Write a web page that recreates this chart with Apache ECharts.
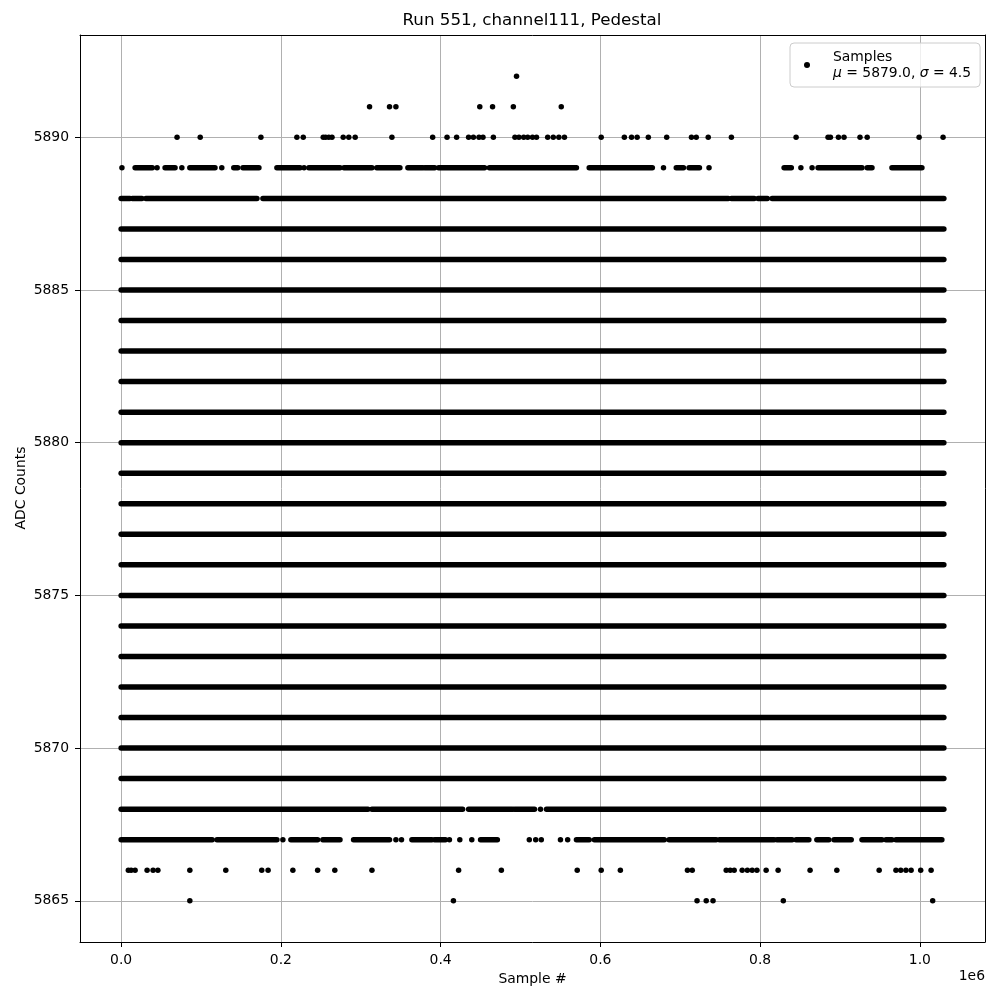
<!DOCTYPE html>
<html>
<head>
<meta charset="utf-8">
<script src="https://cdn.jsdelivr.net/npm/echarts@6/dist/echarts.min.js"></script>
<style>html,body{margin:0;padding:0;background:#fff}#c{width:1000px;height:1000px}</style>
</head>
<body>
<div id="c"></div>
<script>
// x values are in thousands of samples, y values are ADC counts
const titleText = 'Run 551, channel111, Pedestal';
const xAxisTitle = 'Sample #';
const yAxisTitle = 'ADC Counts';
const legendLine1 = 'Samples';
const muValue = '5879.0';
const sigmaValue = '4.5';

// isolated points per ADC level (x in thousands of samples)
const pts5892 = [495];
const pts5891 = [311, 336, 344, 449, 465, 491, 551];
const pts5890 = [70, 99, 175, 220, 228, 253, 256, 260, 264, 278, 285, 293, 339, 390, 408, 420, 435, 441, 448, 453, 466,
  493, 498, 504, 509, 515, 520, 534, 541, 548, 555, 601, 630, 639, 646, 660, 683, 714, 720, 735, 764, 845, 885, 888,
  898, 905, 925, 934, 999, 1029];
const pts5889 = [1, 45, 76, 126, 229, 679, 736, 851, 865];
const pts5868 = [525];
const pts5867 = [202.5, 344, 351, 411, 424, 439, 511, 519, 526, 550, 559];
const pts5866 = [9, 12.5, 17.5, 32.5, 40, 46, 86, 131, 176, 184, 215, 246, 267.5, 314, 422.5, 476, 571, 601, 625, 709,
  715, 757.5, 762.5, 767.5, 777.5, 784, 790, 796, 807.5, 822.5, 862.5, 896, 949, 970, 976, 982.5, 989, 1001, 1014];
const pts5865 = [86, 416, 721, 732.5, 741, 829, 1016];

// densely filled stretches [from, to] per ADC level (x in thousands of samples)
const runs5889 = [[17.5, 39], [55, 67.5], [86, 117.5], [141, 146], [152.5, 172.5], [195, 224], [235, 274], [279, 314],
  [320, 349], [359, 377.5], [380, 392.5], [397.5, 455], [461, 570], [586, 665], [695, 704], [711, 724], [830, 839],
  [872.5, 927.5], [934, 940], [965, 1002.5]];
const runs5888 = [[0, 11], [14, 26], [31, 170], [177.5, 760], [764, 792.5], [797.5, 809], [815, 1030]];
const runs5868 = [[0, 309], [314, 427.5], [435, 490], [492.5, 517.5], [532.5, 1030]];
const runs5867 = [[0, 114], [120, 195], [212.5, 246], [252.5, 274], [291, 336], [364, 389], [392.5, 406], [450, 471],
  [570, 586], [592.5, 680], [686, 745], [749, 817.5], [821, 840], [845, 861], [871, 886], [892.5, 914], [927.5, 952.5],
  [957.5, 965], [970, 1027.5]];
// levels where every sample position is filled
const denseLevels = [5869, 5870, 5871, 5872, 5873, 5874, 5875, 5876, 5877, 5878, 5879, 5880, 5881, 5882, 5883, 5884,
  5885, 5886, 5887];
const denseSpan = [0, 1030];

const xMin = -51.5, xMax = 1081.5;
const yMin = 5863.65, yMax = 5893.35;

const pointSets = [[5892, pts5892], [5891, pts5891], [5890, pts5890], [5889, pts5889], [5868, pts5868],
  [5867, pts5867], [5866, pts5866], [5865, pts5865]];
const runSets = [[5889, runs5889], [5888, runs5888], [5868, runs5868], [5867, runs5867]];

const scatterData = [];
pointSets.forEach(([y, xs]) => xs.forEach(x => scatterData.push([x * 1000, y])));
const runData = [];
runSets.forEach(([y, rs]) => rs.forEach(r => runData.push([r[0] * 1000, r[1] * 1000, y])));
denseLevels.forEach(y => runData.push([denseSpan[0] * 1000, denseSpan[1] * 1000, y]));

const FONT = 'DejaVu Sans';
const frameAxis = {
  axisLine: {show: true, onZero: false, lineStyle: {color: '#000', width: 1}},
  axisTick: {show: false}, axisLabel: {show: false}, splitLine: {show: false}
};
const chart = echarts.init(document.getElementById('c'), null, {renderer: 'canvas'});
chart.setOption({
  animation: false,
  backgroundColor: '#fff',
  title: {
    text: titleText, left: 532, top: 12, textAlign: 'center', padding: 0,
    textStyle: {fontFamily: FONT, fontSize: 16.7, fontWeight: 'normal', color: '#000'}
  },
  legend: {
    data: [{name: 'Samples', icon: 'circle'}],
    left: 790, top: 43,
    orient: 'vertical',
    padding: [6, 9, 6, 14],
    itemWidth: 42, itemHeight: 6,
    backgroundColor: 'rgba(255,255,255,0.8)',
    borderColor: '#cccccc', borderWidth: 1, borderRadius: 4,
    selectedMode: false,
    formatter: () => legendLine1 + '\n{i|μ} = ' + muValue + ', {i|σ} = ' + sigmaValue,
    textStyle: {
      fontFamily: FONT, fontSize: 13.9, color: '#000', lineHeight: 16,
      rich: {i: {fontFamily: FONT, fontStyle: 'italic', fontSize: 13.9, color: '#000', lineHeight: 16}}
    }
  },
  grid: {left: 80, right: 15, top: 35, bottom: 58, show: false},
  xAxis: [{
    type: 'value', min: xMin * 1000, max: xMax * 1000, splitNumber: 5,
    name: xAxisTitle, nameLocation: 'middle', nameGap: 29,
    nameTextStyle: {fontFamily: FONT, fontSize: 13.9, color: '#000'},
    axisLine: {show: true, onZero: false, lineStyle: {color: '#000', width: 1}},
    axisTick: {show: true, length: 5, lineStyle: {color: '#000'}},
    axisLabel: {
      show: true, margin: 11, showMinLabel: false, showMaxLabel: false,
      fontFamily: FONT, fontSize: 13.9, color: '#000',
      formatter: v => (v / 1e6).toFixed(1)
    },
    splitLine: {show: true, lineStyle: {color: '#b0b0b0', width: 1}}
  }, Object.assign({type: 'value', position: 'top', min: xMin * 1000, max: xMax * 1000}, frameAxis)],
  yAxis: [{
    type: 'value', min: yMin, max: yMax, splitNumber: 5,
    axisLine: {show: true, onZero: false, lineStyle: {color: '#000', width: 1}},
    axisTick: {show: true, length: 5, lineStyle: {color: '#000'}},
    axisLabel: {
      show: true, margin: 11, showMinLabel: false, showMaxLabel: false,
      fontFamily: FONT, fontSize: 13.9, color: '#000',
      formatter: v => String(Math.round(v))
    },
    splitLine: {show: true, lineStyle: {color: '#b0b0b0', width: 1}}
  }, Object.assign({type: 'value', position: 'right', min: yMin, max: yMax}, frameAxis)],
  graphic: [{
    type: 'text', right: 15, top: 969,
    style: {text: '1e6', fontFamily: FONT, fontSize: 13.9, fill: '#000'}
  }, {
    type: 'text', x: 21, y: 488, rotation: Math.PI / 2,
    style: {text: yAxisTitle, fontFamily: FONT, fontSize: 13.9, fill: '#000', align: 'center', verticalAlign: 'middle'}
  }],
  series: [
    {
      name: 'Samples', type: 'scatter', data: scatterData,
      symbol: 'circle', symbolSize: 5.5,
      itemStyle: {color: '#000', opacity: 1}, silent: true, z: 3
    },
    {
      name: 'Samples', type: 'custom', data: runData,
      encode: {x: [0, 1], y: 2}, clip: true, silent: true, z: 3,
      itemStyle: {color: '#000'},
      renderItem: function (params, api) {
        const p0 = api.coord([api.value(0), api.value(2)]);
        const p1 = api.coord([api.value(1), api.value(2)]);
        return {
          type: 'line',
          shape: {x1: p0[0], y1: p0[1], x2: p1[0], y2: p1[1]},
          style: {stroke: '#000', lineWidth: 5.5, lineCap: 'round'}
        };
      }
    }
  ]
});
</script>
</body>
</html>
